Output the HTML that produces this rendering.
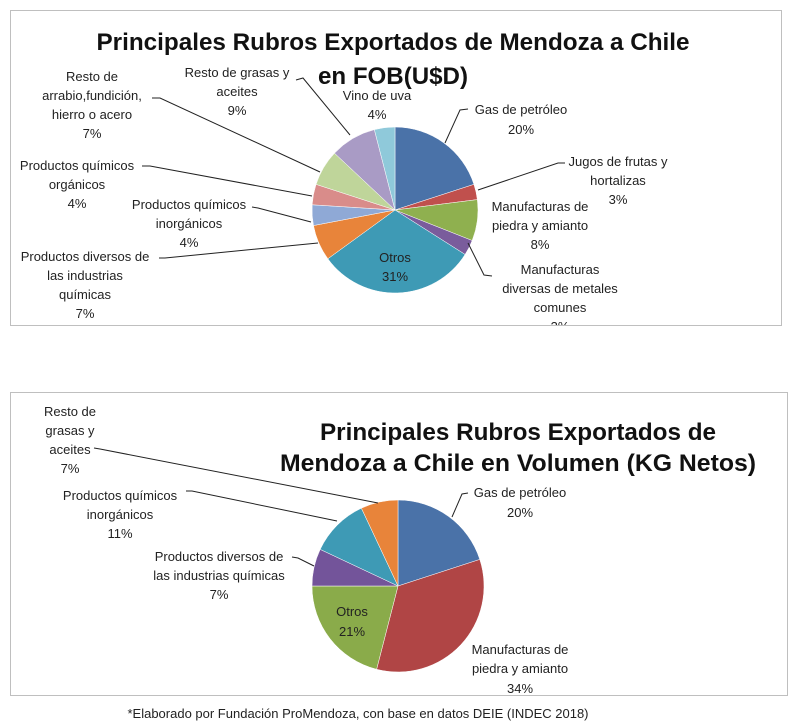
<!DOCTYPE html>
<html><head><meta charset="utf-8"><style>
html,body{margin:0;padding:0;background:#fff;}
svg{display:block;}
text{font-family:"Liberation Sans",sans-serif;fill:#222;}
.l{font-size:13px;text-anchor:middle;}
.t{font-size:24px;font-weight:bold;text-anchor:middle;fill:#111;}
line,polyline{stroke:#222;stroke-width:1;fill:none;}
</style></head><body>
<svg id="s" width="800" height="727" viewBox="0 0 800 727" xmlns="http://www.w3.org/2000/svg">
<defs><clipPath id="c1"><rect x="10" y="10" width="771" height="315"/></clipPath></defs>
<rect x="10.5" y="10.5" width="771" height="315" fill="#fff" stroke="#bfbfbf"/>
<rect x="10.5" y="392.5" width="777" height="303" fill="#fff" stroke="#bfbfbf"/>
<g id="p1"></g><g id="p2"></g>
<!-- chart 1 -->
<text class="t" x="393" y="50" textLength="593" lengthAdjust="spacingAndGlyphs">Principales Rubros Exportados de Mendoza a Chile</text>
<text class="t" x="393" y="84" textLength="150" lengthAdjust="spacingAndGlyphs">en FOB(U$D)</text>
<g clip-path="url(#c1)">
<text class="l" x="92" y="81">Resto de</text><text class="l" x="92" y="100">arrabio,fundición,</text><text class="l" x="92" y="119">hierro o acero</text><text class="l" x="92" y="138">7%</text>
<text class="l" x="237" y="77">Resto de grasas y</text><text class="l" x="237" y="96">aceites</text><text class="l" x="237" y="115">9%</text>
<text class="l" x="377" y="100">Vino de uva</text><text class="l" x="377" y="119">4%</text>
<text class="l" x="521" y="114">Gas de petróleo</text><text class="l" x="521" y="134">20%</text>
<text class="l" x="618" y="166">Jugos de frutas y</text><text class="l" x="618" y="185">hortalizas</text><text class="l" x="618" y="204">3%</text>
<text class="l" x="540" y="211">Manufacturas de</text><text class="l" x="540" y="230">piedra y amianto</text><text class="l" x="540" y="249">8%</text>
<text class="l" x="560" y="274">Manufacturas</text><text class="l" x="560" y="293">diversas de metales</text><text class="l" x="560" y="312">comunes</text><text class="l" x="560" y="331">3%</text>
<text class="l" x="77" y="170">Productos químicos</text><text class="l" x="77" y="189">orgánicos</text><text class="l" x="77" y="208">4%</text>
<text class="l" x="189" y="209">Productos químicos</text><text class="l" x="189" y="228">inorgánicos</text><text class="l" x="189" y="247">4%</text>
<text class="l" x="85" y="261">Productos diversos de</text><text class="l" x="85" y="280">las industrias</text><text class="l" x="85" y="299">químicas</text><text class="l" x="85" y="318">7%</text>
<text class="l" x="395" y="262">Otros</text><text class="l" x="395" y="281">31%</text>
</g>
<polyline points="152,98 160,98 320,172"/>
<polyline points="296,80 303,78 350,135"/>
<polyline points="468,109 460,110 445,143"/>
<polyline points="565,163 558,163 478,190"/>
<polyline points="492,276 484,275 468,243"/>
<polyline points="142,166 150,166 312,196"/>
<polyline points="252,207 258,208 311,222"/>
<polyline points="159,258 165,258 318,243"/>
<!-- chart 2 -->
<text class="t" x="518" y="440" textLength="396" lengthAdjust="spacingAndGlyphs">Principales Rubros Exportados de</text>
<text class="t" x="518" y="471" textLength="476" lengthAdjust="spacingAndGlyphs">Mendoza a Chile en Volumen (KG Netos)</text>
<text class="l" x="70" y="416">Resto de</text><text class="l" x="70" y="435">grasas y</text><text class="l" x="70" y="454">aceites</text><text class="l" x="70" y="473">7%</text>
<text class="l" x="120" y="500">Productos químicos</text><text class="l" x="120" y="519">inorgánicos</text><text class="l" x="120" y="538">11%</text>
<text class="l" x="219" y="561">Productos diversos de</text><text class="l" x="219" y="580">las industrias químicas</text><text class="l" x="219" y="599">7%</text>
<text class="l" x="352" y="616">Otros</text><text class="l" x="352" y="636">21%</text>
<text class="l" x="520" y="497">Gas de petróleo</text><text class="l" x="520" y="517">20%</text>
<text class="l" x="520" y="654">Manufacturas de</text><text class="l" x="520" y="673">piedra y amianto</text><text class="l" x="520" y="693">34%</text>
<polyline points="94,448 100,449 378,503"/>
<polyline points="186,491 192,491 337,521"/>
<polyline points="292,557 298,558 314,566"/>
<polyline points="468,493 462,494 452,517"/>
<text class="l" x="358" y="718">*Elaborado por Fundación ProMendoza, con base en datos DEIE (INDEC 2018)</text>
</svg>
<script>
function pie(g,cx,cy,r,data){
  var a=-Math.PI/2,tot=0;data.forEach(function(d){tot+=d[0];});
  var el=document.getElementById(g),h='';
  data.forEach(function(d){
    var b=a+d[0]/tot*2*Math.PI;
    var x1=cx+r*Math.cos(a),y1=cy+r*Math.sin(a),x2=cx+r*Math.cos(b),y2=cy+r*Math.sin(b);
    var lg=(b-a)>Math.PI?1:0;
    h+='<path d="M'+cx+','+cy+' L'+x1+','+y1+' A'+r+','+r+' 0 '+lg+' 1 '+x2+','+y2+' Z" fill="'+d[1]+'" stroke="#fff" stroke-width="0.5"/>';
    a=b;
  });
  el.innerHTML=h;
}
pie('p1',395,210,83,[[20,'#4a72a8'],[3,'#c0504d'],[8,'#8fb04f'],[3,'#7a5c9c'],[31,'#3e9ab5'],[7,'#e8843a'],[4,'#8fa9d6'],[4,'#d98c8a'],[7,'#bfd59a'],[9,'#a99bc5'],[4,'#8fc9da']]);
pie('p2',398,586,86,[[20,'#4a72a8'],[34,'#b04545'],[21,'#8aab4a'],[7,'#73549a'],[11,'#3e9ab5'],[7,'#e8843a']]);
</script>
</body></html>
